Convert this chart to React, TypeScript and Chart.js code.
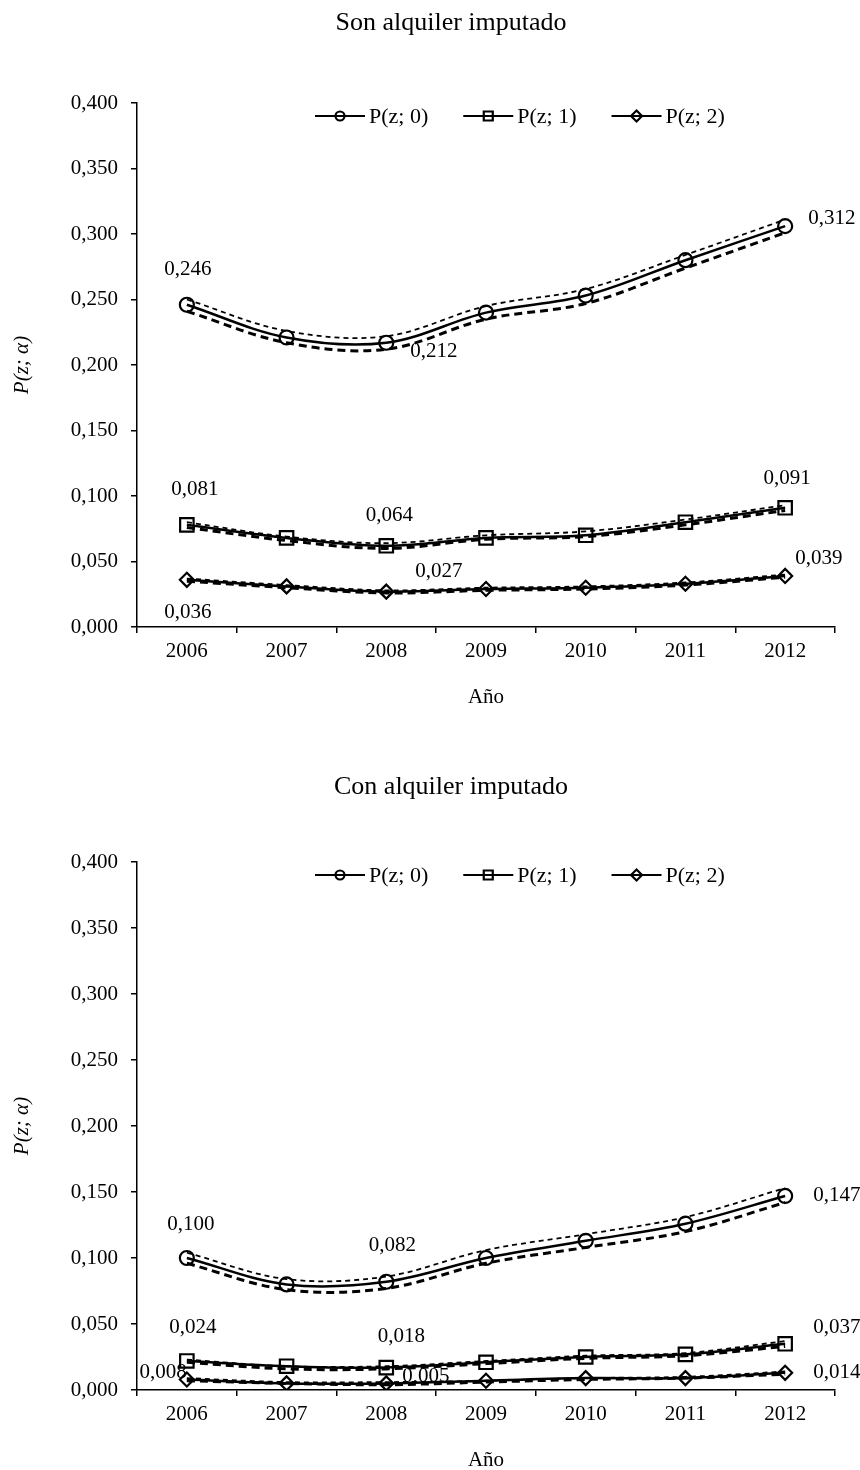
import React, { useEffect, useRef } from 'react';
import { Chart, registerables } from 'chart.js';

Chart.register(...registerables);

const FONT = "'Liberation Serif', 'Times New Roman', Times, serif";
Chart.defaults.font.family = FONT;
Chart.defaults.color = '#000';

// ---------------- data ----------------
const years = ['2006', '2007', '2008', '2009', '2010', '2011', '2012'];
const seriesNames = ['P(z; 0)', 'P(z; 1)', 'P(z; 2)'];

// Son alquiler imputado
const sonP0 = [0.246, 0.221, 0.217, 0.240, 0.253, 0.280, 0.306];
const sonP0Upper = [0.250, 0.226, 0.222, 0.245, 0.258, 0.284, 0.311];
const sonP0Lower = [0.241, 0.217, 0.212, 0.235, 0.247, 0.274, 0.301];
const sonP1 = [0.078, 0.068, 0.062, 0.068, 0.070, 0.080, 0.091];
const sonP1Upper = [0.080, 0.069, 0.064, 0.070, 0.073, 0.082, 0.093];
const sonP1Lower = [0.076, 0.066, 0.060, 0.067, 0.069, 0.078, 0.089];
const sonP2 = [0.036, 0.031, 0.027, 0.029, 0.030, 0.033, 0.039];
const sonP2Upper = [0.037, 0.032, 0.028, 0.030, 0.031, 0.034, 0.040];
const sonP2Lower = [0.035, 0.030, 0.026, 0.028, 0.029, 0.032, 0.038];

const sonP0Labels = ['0,246', null, '0,212', null, null, null, '0,312'];
const sonP1Labels = ['0,081', null, '0,064', null, null, null, '0,091'];
const sonP2Labels = ['0,036', null, '0,027', null, null, null, '0,039'];

// Con alquiler imputado
const conP0 = [0.100, 0.080, 0.082, 0.100, 0.113, 0.126, 0.147];
const conP0Upper = [0.104, 0.084, 0.086, 0.106, 0.118, 0.131, 0.153];
const conP0Lower = [0.096, 0.076, 0.077, 0.096, 0.108, 0.120, 0.142];
const conP1 = [0.022, 0.018, 0.017, 0.021, 0.025, 0.027, 0.035];
const conP1Upper = [0.023, 0.018, 0.018, 0.022, 0.026, 0.028, 0.037];
const conP1Lower = [0.021, 0.016, 0.016, 0.020, 0.024, 0.026, 0.033];
const conP2 = [0.008, 0.005, 0.005, 0.007, 0.009, 0.009, 0.013];
const conP2Upper = [0.009, 0.006, 0.006, 0.007, 0.009, 0.010, 0.014];
const conP2Lower = [0.007, 0.005, 0.004, 0.006, 0.008, 0.009, 0.012];

const conP0Labels = ['0,100', null, '0,082', null, null, null, '0,147'];
const conP1Labels = ['0,024', null, '0,018', null, null, null, '0,037'];
const conP2Labels = ['0,008', null, '0,005', null, null, null, '0,014'];

// ---------------- styles ----------------
type Place = { dx: number; dy: number; align: CanvasTextAlign } | null;

const sonPlacement: Place[][] = [
  [{ dx: 1, dy: -35, align: 'center' }, null, { dx: 24, dy: 9, align: 'left' }, null, null, null, { dx: 23, dy: -8, align: 'left' }],
  [{ dx: 8, dy: -35, align: 'center' }, null, { dx: 3, dy: -30, align: 'center' }, null, null, null, { dx: 2, dy: -29, align: 'center' }],
  [{ dx: 1, dy: 33, align: 'center' }, null, { dx: 29, dy: -20, align: 'left' }, null, null, null, { dx: 10, dy: -17, align: 'left' }],
];
const conPlacement: Place[][] = [
  [{ dx: 4, dy: -34, align: 'center' }, null, { dx: 6, dy: -36, align: 'center' }, null, null, null, { dx: 28, dy: 0, align: 'left' }],
  [{ dx: 6, dy: -33, align: 'center' }, null, { dx: 15, dy: -31, align: 'center' }, null, null, null, { dx: 28, dy: -16, align: 'left' }],
  [{ dx: 0, dy: -7, align: 'right' }, null, { dx: 16, dy: -7, align: 'left' }, null, null, null, { dx: 28, dy: 0, align: 'left' }],
];

const markers = ['circle', 'rect', 'rectRot'];
const markerRadius = [7, 9.5, 7];
const legendMarkerRadius = [4.5, 4.5, 5.5];

function drawMarker(ctx: CanvasRenderingContext2D, style: string, x: number, y: number, r: number) {
  ctx.beginPath();
  if (style === 'circle') ctx.arc(x, y, r, 0, Math.PI * 2);
  else if (style === 'rect') ctx.rect(x - r, y - r, 2 * r, 2 * r);
  else {
    ctx.moveTo(x - r, y);
    ctx.lineTo(x, y - r);
    ctx.lineTo(x + r, y);
    ctx.lineTo(x, y + r);
    ctx.closePath();
  }
  ctx.stroke();
}

type Group = { main: number[]; upper: number[]; lower: number[] };

interface ChartProps {
  title: string;
  titleY: number;
  padTop: number;
  height: number;
  padBottom: number;
  groups: Group[];
  labels: (string | null)[][];
  placements: Place[][];
}

function PovertyChart(props: ChartProps) {
  const ref = useRef<HTMLCanvasElement>(null);
  useEffect(() => {
    const { title, titleY, padTop, groups, labels, placements, padBottom } = props;
    const datasets: any[] = [];
    groups.forEach((g, s) => {
      datasets.push({
        label: seriesNames[s],
        data: g.main,
        borderColor: '#000',
        borderWidth: 2.5,
        tension: 0.35,
        fill: false,
        pointStyle: markers[s],
        pointRadius: markerRadius[s],
        pointBorderWidth: 2.2,
        pointBorderColor: '#000',
        pointBackgroundColor: 'rgba(0,0,0,0)',
      });
      datasets.push({
        label: seriesNames[s] + ' sup',
        data: g.upper,
        borderColor: '#000',
        borderWidth: 1.8,
        borderDash: [5, 4],
        tension: 0.35,
        fill: false,
        pointRadius: 0,
      });
      datasets.push({
        label: seriesNames[s] + ' inf',
        data: g.lower,
        borderColor: '#000',
        borderWidth: 3,
        borderDash: [8, 5],
        tension: 0.35,
        fill: false,
        pointRadius: 0,
      });
    });

    const labelItems: any[] = [];
    labels.forEach((arr, s) =>
      arr.forEach((t, i) => {
        const p = placements[s][i];
        if (t && p) labelItems.push({ datasetIndex: s * 3, index: i, text: t, ...p });
      })
    );

    const titlePlugin = {
      id: 'customTitle',
      afterDraw(chart: any) {
        const ctx: CanvasRenderingContext2D = chart.ctx;
        ctx.save();
        ctx.font = `26px ${FONT}`;
        ctx.fillStyle = '#000';
        ctx.textAlign = 'center';
        ctx.textBaseline = 'middle';
        ctx.fillText(title, 451, titleY);
        ctx.restore();
      },
    };

    const lineLegendPlugin = {
      id: 'lineLegend',
      afterDraw(chart: any) {
        const ctx: CanvasRenderingContext2D = chart.ctx;
        const y = chart.chartArea.top + 13;
        let x = 315;
        ctx.save();
        ctx.font = `22px ${FONT}`;
        ctx.textBaseline = 'middle';
        ctx.textAlign = 'left';
        ctx.fillStyle = '#000';
        ctx.strokeStyle = '#000';
        ctx.lineWidth = 2.2;
        seriesNames.forEach((name, s) => {
          ctx.setLineDash([]);
          ctx.beginPath();
          ctx.moveTo(x, y);
          ctx.lineTo(x + 50, y);
          ctx.stroke();
          drawMarker(ctx, markers[s], x + 25, y, legendMarkerRadius[s]);
          const tx = x + 54;
          ctx.fillText(name, tx, y + 1);
          x = tx + ctx.measureText(name).width + 35;
        });
        ctx.restore();
      },
    };

    const pointLabelPlugin = {
      id: 'pointLabelsCustom',
      afterDatasetsDraw(chart: any) {
        const ctx: CanvasRenderingContext2D = chart.ctx;
        ctx.save();
        ctx.font = `21px ${FONT}`;
        ctx.fillStyle = '#000';
        ctx.textBaseline = 'middle';
        labelItems.forEach((it) => {
          const el = chart.getDatasetMeta(it.datasetIndex).data[it.index];
          if (!el) return;
          ctx.textAlign = it.align;
          ctx.fillText(it.text, el.x + it.dx, el.y + it.dy);
        });
        ctx.restore();
      },
    };

    const chart = new Chart(ref.current as HTMLCanvasElement, {
      type: 'line',
      data: { labels: years, datasets },
      options: {
        responsive: false,
        animation: false,
        devicePixelRatio: 1,
        layout: { padding: { left: 0, right: 25, top: padTop, bottom: padBottom } },
        plugins: {
          legend: { display: false },
          tooltip: { enabled: false },
          title: { display: false },
        },
        scales: {
          x: {
            type: 'category',
            offset: true,
            grid: {
              display: true,
              drawOnChartArea: false,
              drawTicks: true,
              tickLength: 6,
              offset: true,
              color: '#000',
              lineWidth: 1.5,
            },
            border: { display: true, color: '#000', width: 1.5 },
            ticks: { color: '#000', font: { size: 21 }, padding: 6, maxRotation: 0, autoSkip: false },
            title: { display: true, text: 'Año', color: '#000', font: { size: 21 }, padding: { top: 0, bottom: -3 } },
            afterFit: (s: any) => {
              s.height = 80;
            },
          },
          y: {
            min: 0,
            max: 0.4,
            grid: {
              display: true,
              drawOnChartArea: false,
              drawTicks: true,
              tickLength: 6,
              color: '#000',
              lineWidth: 1.5,
            },
            border: { display: true, color: '#000', width: 1.5 },
            ticks: {
              stepSize: 0.05,
              color: '#000',
              font: { size: 21 },
              padding: 13,
              callback: (v: any) => Number(v).toFixed(3).replace('.', ','),
            },
            title: {
              display: true,
              text: 'P(z; α)',
              color: '#000',
              font: { size: 21, style: 'italic' },
              padding: { top: 9.5, bottom: 0 },
            },
            afterFit: (s: any) => {
              s.width = 137;
            },
          },
        },
      } as any,
      plugins: [titlePlugin, lineLegendPlugin, pointLabelPlugin],
    });
    return () => chart.destroy();
  }, []);
  return (
    <canvas
      ref={ref}
      width={860}
      height={props.height}
      style={{ display: 'block', width: 860, height: props.height }}
    />
  );
}

export default function App() {
  return (
    <div style={{ position: 'absolute', left: 0, top: 0, width: 860, height: 1470, background: '#fff', overflow: 'hidden' }}>
      <div style={{ position: 'absolute', left: 0, top: 0 }}>
        <PovertyChart
          title="Son alquiler imputado"
          titleY={23.5}
          padTop={103}
          height={740}
          padBottom={33}
          groups={[
            { main: sonP0, upper: sonP0Upper, lower: sonP0Lower },
            { main: sonP1, upper: sonP1Upper, lower: sonP1Lower },
            { main: sonP2, upper: sonP2Upper, lower: sonP2Lower },
          ]}
          labels={[sonP0Labels, sonP1Labels, sonP2Labels]}
          placements={sonPlacement}
        />
      </div>
      <div style={{ position: 'absolute', left: 0, top: 740 }}>
        <PovertyChart
          title="Con alquiler imputado"
          titleY={47.5}
          padTop={122}
          height={730}
          padBottom={0}
          groups={[
            { main: conP0, upper: conP0Upper, lower: conP0Lower },
            { main: conP1, upper: conP1Upper, lower: conP1Lower },
            { main: conP2, upper: conP2Upper, lower: conP2Lower },
          ]}
          labels={[conP0Labels, conP1Labels, conP2Labels]}
          placements={conPlacement}
        />
      </div>
    </div>
  );
}
